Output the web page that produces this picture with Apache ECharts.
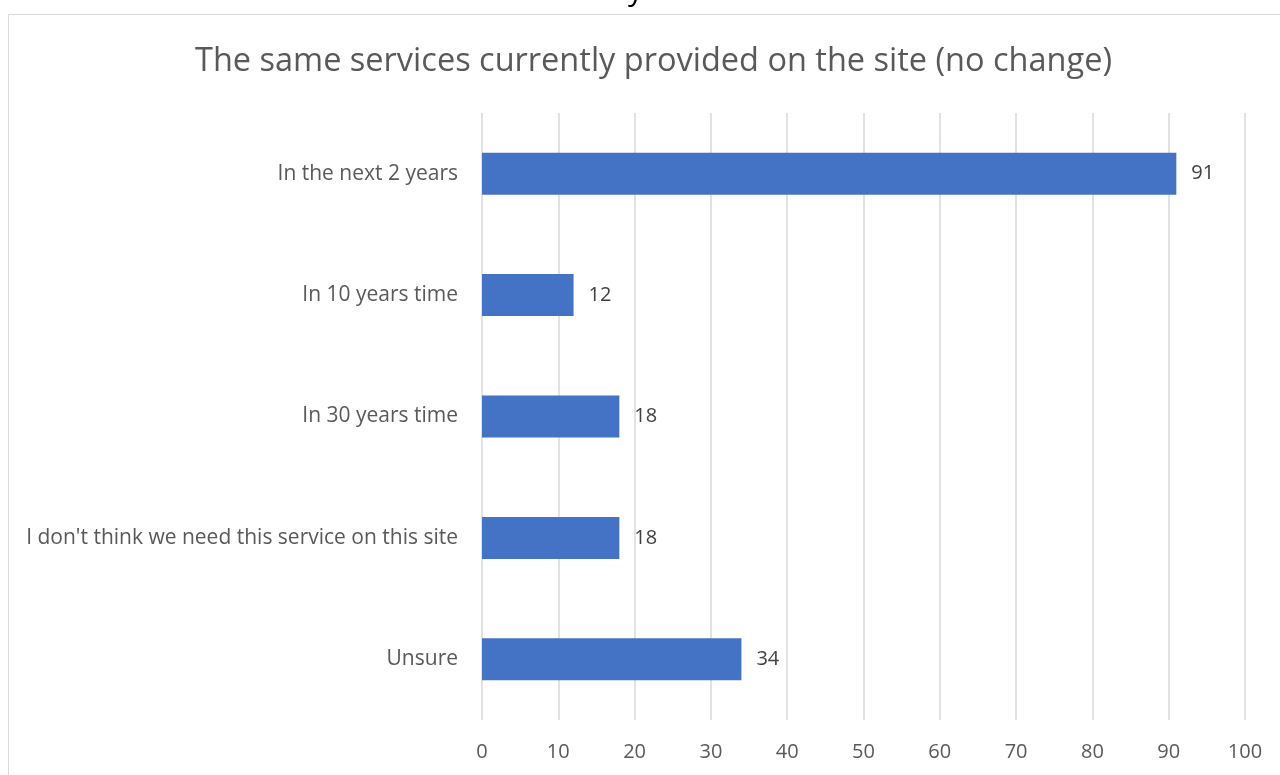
<!DOCTYPE html>
<html>
<head>
<meta charset="utf-8">
<script src="https://cdn.jsdelivr.net/npm/echarts@6/dist/echarts.min.js"></script>
<style>
  html, body { margin: 0; padding: 0; background: #fff; }
  #chart { width: 1280px; height: 775px; }
</style>
</head>
<body>
<div id="chart"></div>
<script>
// Survey responses for the "no change" option
const categories = [
  'In the next 2 years',
  'In 10 years time',
  'In 30 years time',
  "I don't think we need this service on this site",
  'Unsure'
];
const counts = [91, 12, 18, 18, 34];
const xTicks = [0, 10, 20, 30, 40, 50, 60, 70, 80, 90, 100];

const FONT = '"Open Sans", "Noto Sans", sans-serif';
const chart = echarts.init(document.getElementById('chart'), null, { renderer: 'canvas' });

chart.setOption({
  backgroundColor: '#ffffff',
  animation: false,
  title: {
    text: 'The same services currently provided on the site (no change)',
    left: 190,
    top: 40,
    textStyle: { fontFamily: FONT, fontSize: 32.5, fontWeight: 'normal', color: '#595959' }
  },
  graphic: [
    // chart-area frame
    {
      type: 'rect',
      shape: { x: 8.5, y: 14.5, width: 1290, height: 800 },
      style: { fill: 'none', stroke: '#d9d9d9', lineWidth: 1 },
      silent: true
    },
    // tail of the heading above, cut by the top edge
    {
      type: 'text',
      left: 628,
      top: -24,
      style: { text: 'y', fontFamily: FONT, fontSize: 30, fill: '#000000' },
      silent: true
    }
  ],
  grid: { left: 482, right: 35, top: 113, bottom: 55, containLabel: false },
  xAxis: {
    type: 'value',
    min: xTicks[0],
    max: xTicks[xTicks.length - 1],
    interval: 10,
    axisLine: { show: false },
    axisTick: { show: false },
    splitLine: { show: true, lineStyle: { color: '#d9d9d9', width: 1.5 } },
    axisLabel: { fontFamily: FONT, fontSize: 20, color: '#595959', margin: 22 }
  },
  yAxis: {
    type: 'category',
    data: categories,
    inverse: true,
    axisLine: { show: false },
    axisTick: { show: false },
    axisLabel: { fontFamily: FONT, fontSize: 21, color: '#595959', margin: 24 }
  },
  series: [{
    type: 'bar',
    data: counts,
    barWidth: 42,
    itemStyle: { color: '#4472C4' },
    label: {
      show: true,
      position: 'right',
      distance: 15,
      fontFamily: FONT,
      fontSize: 20,
      color: '#404040'
    }
  }]
});
</script>
</body>
</html>
